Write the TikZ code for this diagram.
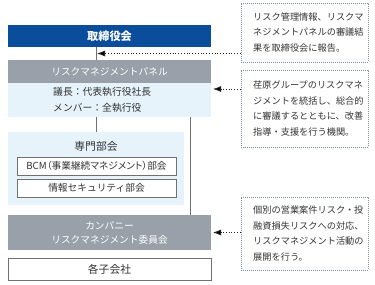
\documentclass[tikz,border=0pt]{standalone}
\usepackage{fontspec}
\setmainfont{Noto Sans CJK JP}
\usetikzlibrary{arrows.meta}
\definecolor{boardblue}{HTML}{0A4E9B}
\definecolor{panelgray}{HTML}{9AA0AA}
\definecolor{paleblue}{HTML}{E6F3FB}
\definecolor{linegray}{HTML}{707070}
\definecolor{dotblue}{HTML}{7F8FA8}
\definecolor{txt}{HTML}{333333}
\tikzset{
  base/.style={rectangle, inner sep=0pt, minimum width=203pt},
  boardbox/.style={base, fill=boardblue, text=white, font=\fontsize{11.2}{13}\selectfont\bfseries},
  graybox/.style={base, fill=panelgray, text=white, font=\fontsize{9.7}{14}\selectfont, align=center},
  palebox/.style={base, fill=paleblue},
  whitebox/.style={rectangle, inner sep=0pt, draw=linegray, line width=0.6pt, fill=white, text=txt, font=\fontsize{9.7}{12}\selectfont},
  bodytext/.style={inner sep=0pt, text=txt, align=left, font=\fontsize{9.8}{16}\selectfont},
  notebox/.style={rectangle, inner sep=0pt, draw=dotblue, line width=0.7pt, dash pattern=on 0.7pt off 1.3pt},
  notetext/.style={inner sep=0pt, text=txt, align=left, font=\fontsize{9.2}{15.8}\selectfont},
  conn/.style={draw=linegray, line width=0.8pt},
  notearrow/.style={draw=black!85, line width=0.8pt, dash pattern=on 0.8pt off 2pt, arrows={-{Latex[length=8pt,width=6pt,fill=black]}}}
}
\begin{document}
\begin{tikzpicture}[x=1pt,y=-1pt]
\useasboundingbox (0,0) rectangle (375,284);
% left column
\node[boardbox, minimum height=22pt] (board) at (109.5,36) {取締役会};
\node[graybox, minimum height=23pt] (panelhead) at (109.5,71.5) {リスクマネジメントパネル};
\node[palebox, minimum height=34pt] (panelbody) at (109.5,100) {};
\node[bodytext, anchor=west] (paneltext) at (53,100) {議長：代表執行役社長\\メンバー：全執行役};
\node[palebox, minimum width=176pt, minimum height=73pt] (sub) at (96,168.5) {};
\node[inner sep=0pt, text=txt, font=\fontsize{10.8}{12}\selectfont] (subtitle) at (96,146) {専門部会};
\node[whitebox, minimum width=159pt, minimum height=18pt, font=\fontsize{9.7}{12}\selectfont\addfontfeatures{RawFeature=+palt}] (bcm) at (96.5,166) {BCM（事業継続マネジメント）部会};
\node[whitebox, minimum width=159pt, minimum height=18pt] (info) at (96.5,188) {情報セキュリティ部会};
\node[graybox, minimum height=35pt] (company) at (109.5,232.5) {カンパニー\\リスクマネジメント委員会};
\node[whitebox, minimum width=203pt, minimum height=22pt, font=\fontsize{10.8}{12}\selectfont] (subs) at (109.5,269) {各子会社};
% connectors
\draw[conn] ([xshift=89pt]board.south west) -- ([xshift=89pt]panelhead.north west);
\draw[conn] ([xshift=89pt]panelbody.south west) -- ([xshift=89pt]sub.north west);
\draw[conn] ([xshift=183pt]panelbody.south west) -- ([xshift=183pt]company.north west);
% notes
\node[notebox, minimum width=127pt, minimum height=59pt] (n1) at (304.5,32.5) {};
\node[notetext, anchor=west] (t1) at (253,32.5) {リスク管理情報、リスクマ\\ネジメントパネルの審議結\\果を取締役会に報告。};
\node[notebox, minimum width=127pt, minimum height=77pt] (n2) at (304.5,108.5) {};
\node[notetext, anchor=west] (t2) at (253,108.5) {荏原グループのリスクマネ\\ジメントを統括し、総合的\\に審議するとともに、改善\\指導・支援を行う機関。};
\node[notebox, minimum width=127pt, minimum height=73pt] (n3) at (304.5,233.5) {};
\node[notetext, anchor=west] (t3) at (253,233.5) {個別の営業案件リスク・投\\融資損失リスクへの対応、\\リスクマネジメント活動の\\展開を行う。};
% arrows
\coordinate (j1) at (97,53.5);
\coordinate (j2) at (213,89);
\coordinate (j3) at (213,232.5);
\draw[notearrow] (n1.west |- j1) -- (j1);
\draw[notearrow] (n2.west |- j2) -- (j2);
\draw[notearrow] (n3.west |- j3) -- (j3);
\end{tikzpicture}
\end{document}
